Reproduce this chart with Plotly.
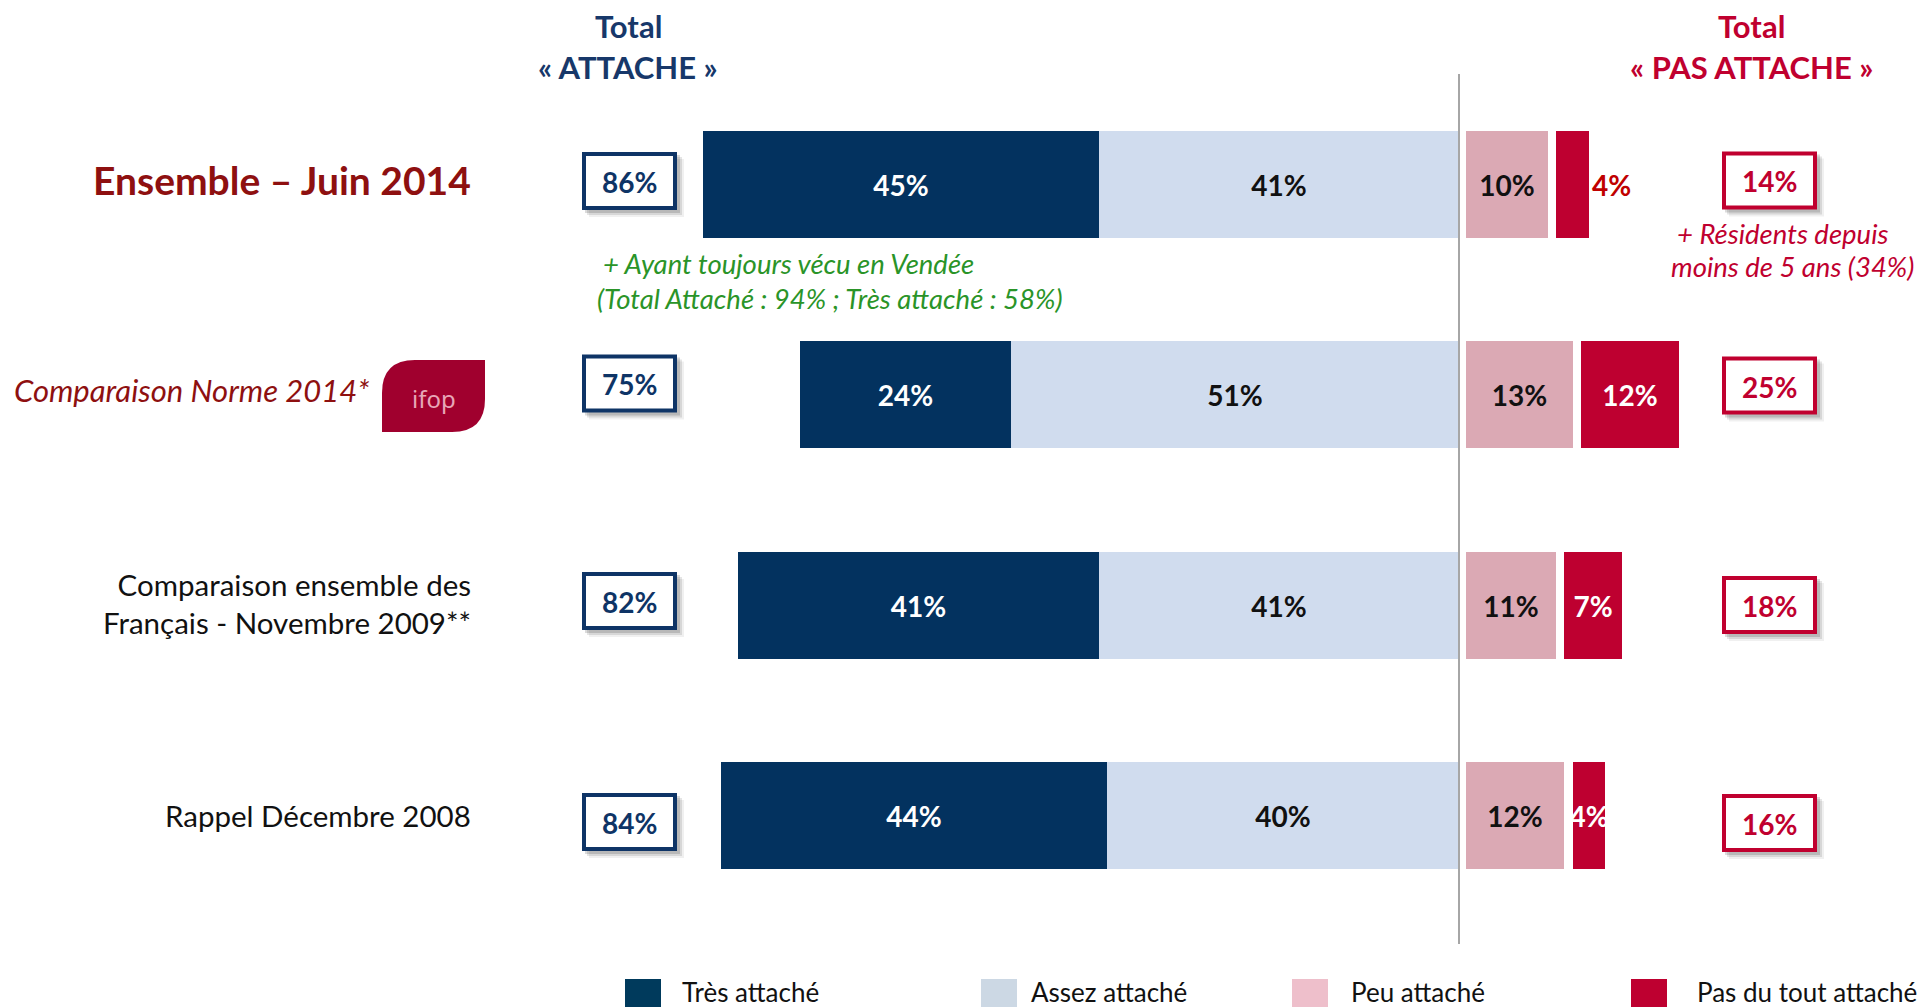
import plotly.graph_objects as go

# ---------------- data ----------------
categories = ["Ensemble – Juin 2014", "Comparaison Norme 2014*",
              "Comparaison ensemble des Français - Novembre 2009**", "Rappel Décembre 2008"]
tres_attache = [45, 24, 41, 44]
assez_attache = [41, 51, 41, 40]
peu_attache = [10, 13, 11, 12]
pas_du_tout = [4, 12, 7, 4]
total_attache = [86, 75, 82, 84]
total_pas_attache = [14, 25, 18, 16]
legend_labels = ["Très attaché", "Assez attaché", "Peu attaché", "Pas du tout attaché"]

# ---------------- style ----------------
W, H = 1923, 1007
FONT = "Lato"
NAVY = "#03325F"
LIGHT = "#D0DCEE"
PINK = "#DBA9B4"
RED = "#BE0030"
HEAD_BLUE = "#17386A"
CRIMSON = "#C0002F"
DARKRED = "#8E1010"
GREEN = "#2A9428"

DIV_PX = 1459          # divider position (px)
LEFT_SCALE = 8.79      # px per % on left side
RIGHT_SCALE = 8.2      # px per % on right side
GAP_L = 0.85           # gap after divider (in %)
GAP_M = 1.0            # gap between pink and red (in %)
ROW0, ROW_STEP = 184, 210.5
BAR_PX = 107


def X(px):
    return px / W


def Y(py):
    return 1 - py / H


def pct(v):
    return [f"{x}%" for x in v]


def bfont(color, size=28):
    return dict(color=color, size=size, family=FONT, weight="bold")


fig = go.Figure()

# left side bars
fig.add_trace(go.Bar(
    y=categories, x=tres_attache,
    base=[-(t + a) for t, a in zip(tres_attache, assez_attache)],
    orientation="h", marker=dict(color=NAVY, line=dict(width=0)),
    text=pct(tres_attache), textposition="inside", insidetextanchor="middle",
    textangle=0, insidetextfont=bfont("white"),
    width=BAR_PX / ROW_STEP, xaxis="x", yaxis="y", name=legend_labels[0],
    showlegend=False, cliponaxis=False, hoverinfo="skip"))
fig.add_trace(go.Bar(
    y=categories, x=assez_attache, base=[-a for a in assez_attache],
    orientation="h", marker=dict(color=LIGHT, line=dict(width=0)),
    text=pct(assez_attache), textposition="inside", insidetextanchor="middle",
    textangle=0, insidetextfont=bfont("#111111"),
    width=BAR_PX / ROW_STEP, xaxis="x", yaxis="y", name=legend_labels[1],
    showlegend=False, cliponaxis=False, hoverinfo="skip"))

# right side bars
fig.add_trace(go.Bar(
    y=categories, x=peu_attache, base=[GAP_L] * len(peu_attache),
    orientation="h", marker=dict(color=PINK, line=dict(width=0)),
    text=pct(peu_attache), textposition="inside", insidetextanchor="middle",
    textangle=0, insidetextfont=bfont("#111111"),
    width=BAR_PX / ROW_STEP, xaxis="x2", yaxis="y", name=legend_labels[2],
    showlegend=False, cliponaxis=False, hoverinfo="skip"))
fig.add_trace(go.Bar(
    y=categories, x=pas_du_tout, base=[GAP_L + p + GAP_M for p in peu_attache],
    orientation="h", marker=dict(color=RED, line=dict(width=0)),
    text=pct(pas_du_tout),
    textposition=["outside", "inside", "inside", "inside"], insidetextanchor="middle",
    textangle=0, insidetextfont=bfont("white"),
    outsidetextfont=bfont("#C00000"),
    width=BAR_PX / ROW_STEP, xaxis="x2", yaxis="y", name=legend_labels[3],
    showlegend=False, cliponaxis=False, hoverinfo="skip"))

shapes = []
annotations = []

# divider
shapes.append(dict(type="line", xref="paper", yref="paper", x0=X(DIV_PX), x1=X(DIV_PX),
                   y0=Y(74), y1=Y(944), line=dict(color="#A6A6A6", width=2), layer="above"))

# total boxes
left_box_cy = [181, 383.5, 601, 822]
right_box_cy = [180.5, 385.5, 605, 823]
BOX_W, BOX_H = 95, 58


def add_box(cx0, cy, text, color):
    x0, x1 = cx0, cx0 + BOX_W
    y0, y1 = cy - BOX_H / 2, cy + BOX_H / 2
    for k, op in [(7, 0.06), (5, 0.10), (3, 0.14)]:
        shapes.append(dict(type="rect", xref="paper", yref="paper",
                           x0=X(x0 + k), x1=X(x1 + k), y0=Y(y0 + k), y1=Y(y1 + k),
                           fillcolor=f"rgba(0,0,0,{op})", line=dict(width=0), layer="below"))
    shapes.append(dict(type="rect", xref="paper", yref="paper",
                       x0=X(x0 + 2), x1=X(x1 - 2), y0=Y(y0 + 2), y1=Y(y1 - 2),
                       fillcolor="white", line=dict(color=color, width=4), layer="above"))
    annotations.append(dict(xref="paper", yref="paper", x=X((x0 + x1) / 2), y=Y(cy + 1),
                            text=f"<b>{text}</b>", showarrow=False, xanchor="center", yanchor="middle",
                            font=dict(family=FONT, size=28, color=color)))


for i in range(len(categories)):
    add_box(582, left_box_cy[i], f"{total_attache[i]}%", "#0E3466")
    add_box(1722, right_box_cy[i], f"{total_pas_attache[i]}%", CRIMSON)

# headers
annotations += [
    dict(xref="paper", yref="paper", x=X(628), y=Y(26), text="<b>Total</b>", showarrow=False,
         xanchor="center", yanchor="middle", font=dict(family=FONT, size=31, color=HEAD_BLUE)),
    dict(xref="paper", yref="paper", x=X(628), y=Y(67), text="<b>« ATTACHE »</b>", showarrow=False,
         xanchor="center", yanchor="middle", font=dict(family=FONT, size=31, color=HEAD_BLUE)),
    dict(xref="paper", yref="paper", x=X(1751), y=Y(26), text="<b>Total</b>", showarrow=False,
         xanchor="center", yanchor="middle", font=dict(family=FONT, size=31, color=CRIMSON)),
    dict(xref="paper", yref="paper", x=X(1751), y=Y(67), text="<b>« PAS ATTACHE »</b>", showarrow=False,
         xanchor="center", yanchor="middle", font=dict(family=FONT, size=31, color=CRIMSON)),
]

# row labels
annotations += [
    dict(xref="paper", yref="paper", x=X(473), y=Y(180), text="<b>Ensemble – Juin 2014</b>",
         showarrow=False, xanchor="right", yanchor="middle",
         font=dict(family=FONT, size=39, color=DARKRED)),
    dict(xref="paper", yref="paper", x=X(12), y=Y(390), text="<i>Comparaison Norme 2014*</i>",
         showarrow=False, xanchor="left", yanchor="middle",
         font=dict(family=FONT, size=31, color=DARKRED)),
    dict(xref="paper", yref="paper", x=X(473), y=Y(603),
         text="Comparaison ensemble des<br>Français - Novembre 2009**",
         showarrow=False, xanchor="right", yanchor="middle", align="right",
         font=dict(family=FONT, size=29.5, color="#111111")),
    dict(xref="paper", yref="paper", x=X(473), y=Y(815), text="Rappel Décembre 2008",
         showarrow=False, xanchor="right", yanchor="middle",
         font=dict(family=FONT, size=29.5, color="#111111")),
]

# ifop logo
lx0, lx1, ly0, ly1, r = 382, 485, 360, 432, 33
path = (f"M {X(lx0 + r)} {Y(ly0)} L {X(lx1)} {Y(ly0)} L {X(lx1)} {Y(ly1 - r)} "
        f"Q {X(lx1)} {Y(ly1)} {X(lx1 - r)} {Y(ly1)} L {X(lx0)} {Y(ly1)} L {X(lx0)} {Y(ly0 + r)} "
        f"Q {X(lx0)} {Y(ly0)} {X(lx0 + r)} {Y(ly0)} Z")
shapes.append(dict(type="path", xref="paper", yref="paper", path=path,
                   fillcolor="#A0002E", line=dict(width=0)))
annotations.append(dict(xref="paper", yref="paper", x=X(434), y=Y(398), text="ifop",
                        showarrow=False, xanchor="center", yanchor="middle",
                        font=dict(family="DejaVu Sans ExtraLight, Noto Sans", size=24, color="#E7A6B7")))

# notes
annotations += [
    dict(xref="paper", yref="paper", x=X(601), y=Y(264), text="<i>+ Ayant toujours vécu en Vendée</i>",
         showarrow=False, xanchor="left", yanchor="middle", font=dict(family=FONT, size=27.5, color=GREEN)),
    dict(xref="paper", yref="paper", x=X(595), y=Y(298),
         text="<i>(Total Attaché : 94% ; Très attaché : 58%)</i>",
         showarrow=False, xanchor="left", yanchor="middle", font=dict(family=FONT, size=27.5, color=GREEN)),
    dict(xref="paper", yref="paper", x=X(1783), y=Y(233), text="<i>+ Résidents depuis</i>",
         showarrow=False, xanchor="center", yanchor="middle", font=dict(family=FONT, size=27.5, color=CRIMSON)),
    dict(xref="paper", yref="paper", x=X(1792), y=Y(267), text="<i>moins de 5 ans (34%)</i>",
         showarrow=False, xanchor="center", yanchor="middle", font=dict(family=FONT, size=27.5, color=CRIMSON)),
]

# custom legend
leg_colors = ["#003A5C", "#CCD8E4", "#EEBFCB", RED]
leg_swatch_x = [625, 981, 1292, 1631]
leg_text_x = [680, 1029, 1349, 1695]
for i, lab in enumerate(legend_labels):
    shapes.append(dict(type="rect", xref="paper", yref="paper",
                       x0=X(leg_swatch_x[i]), x1=X(leg_swatch_x[i] + 36), y0=Y(979), y1=Y(1010),
                       fillcolor=leg_colors[i], line=dict(width=0)))
    annotations.append(dict(xref="paper", yref="paper", x=X(leg_text_x[i]), y=Y(992), text=lab,
                            showarrow=False, xanchor="left", yanchor="middle",
                            font=dict(family=FONT, size=26, color="#111111")))

fig.update_layout(
    width=W, height=H, margin=dict(l=0, r=0, t=0, b=0, pad=0),
    paper_bgcolor="white", plot_bgcolor="white",
    barmode="overlay", bargap=0,
    uniformtext=dict(minsize=28, mode="show"),
    xaxis=dict(domain=[0, DIV_PX / W], range=[-DIV_PX / LEFT_SCALE, 0], visible=False, fixedrange=True),
    xaxis2=dict(domain=[DIV_PX / W, 1], range=[0, (W - DIV_PX) / RIGHT_SCALE], visible=False,
                anchor="y", fixedrange=True),
    yaxis=dict(categoryorder="array", categoryarray=categories, visible=False,
               range=[3 + (H - (ROW0 + 3 * ROW_STEP)) / ROW_STEP, -ROW0 / ROW_STEP], fixedrange=True),
    shapes=shapes, annotations=annotations, showlegend=False,
    font=dict(family=FONT),
)

fig.write_html("out.html", config={"displayModeBar": False},
               post_script="document.body.style.margin='0';document.body.style.overflow='hidden';")
